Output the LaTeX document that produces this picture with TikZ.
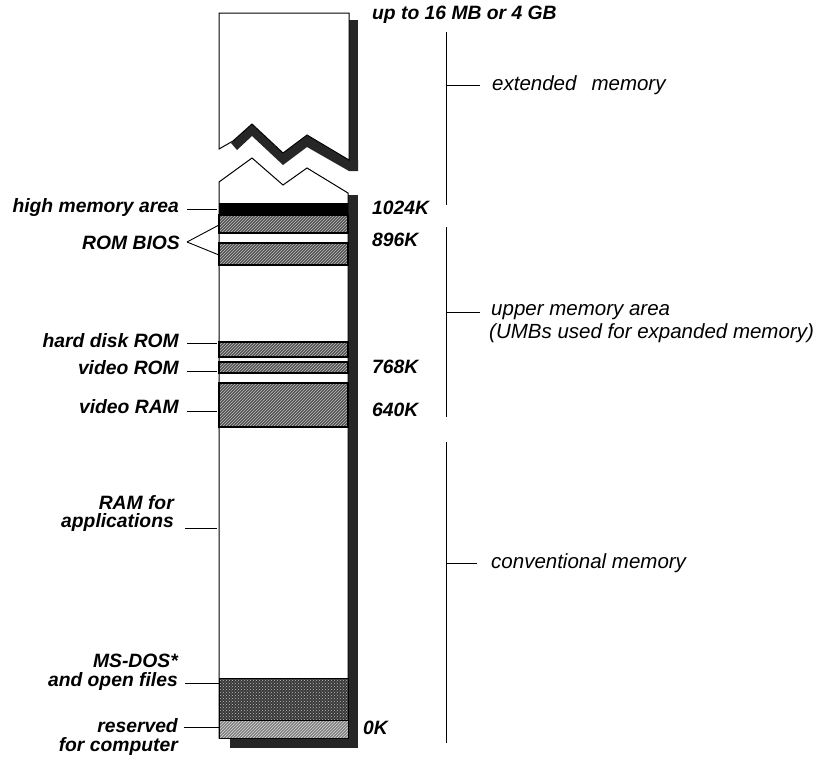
\documentclass[tikz,border=0pt]{standalone}
\usepackage{fontspec}
\setmainfont{Liberation Sans}
\usetikzlibrary{patterns}
\begin{document}
\begin{tikzpicture}[x=1pt,y=-1pt,
  lbl/.style={font=\fontsize{19.3}{21}\selectfont\bfseries\itshape, inner sep=0pt},
  blbl/.style={font=\fontsize{20.5}{22}\selectfont\itshape, inner sep=0pt, anchor=west},
  tickline/.style={line width=0.9pt},
  brk/.style={line width=1pt},
  shadowfill/.style={fill=black!85},
  hatchband/.style={preaction={fill=black!68}, pattern=north east lines, pattern color=white!75!black, draw=black, line width=1.2pt},
  lighthatch/.style={preaction={fill=black!50}, pattern=north east lines, pattern color=white!85!black, draw=black, line width=1pt},
  dotband/.style={preaction={fill=black!78}, pattern=crosshatch dots, pattern color=white!75!black, draw=black, line width=1pt},
  piece/.style={draw=black, fill=white, line width=1pt, line join=miter}
]
\useasboundingbox (0,0) rectangle (822,763);

% ---- shadows
\fill[shadowfill] (349,20) rectangle (358,171);
\fill[shadowfill] (231,143) -- (252,124) -- (283,153) -- (307,135) -- (349,160) -- (358,160) -- (358,171) -- (349,171) -- (307,147) -- (283,165) -- (252,136) -- (237,150) -- cycle;
\fill[shadowfill] (348,195) rectangle (358,748);
\fill[shadowfill] (230,736) rectangle (358,748);

% ---- top piece (extended memory, broken)
\draw[piece] (219,149) -- (219,13) -- (349,13) -- (349,160) -- (307,135) -- (283,153) -- (252,124) -- (233,141) -- cycle;

% ---- lower column
\draw[piece] (219,738) -- (219,182) -- (252,158) -- (283,185) -- (307,168) -- (348,193) -- (348,738) -- cycle;

% ---- bands
\fill[black] (219,203) rectangle (348,214);
\path[hatchband] (219,215) rectangle (348,233);
\path[hatchband] (219,243) rectangle (348,265);
\path[hatchband] (219,342) rectangle (348,357);
\path[hatchband] (219,362) rectangle (348,373);
\path[hatchband] (219,383) rectangle (348,427);
\path[dotband] (219,678) rectangle (348,720);
\path[lighthatch] (219,720) rectangle (348,738);

% ---- column edge anchors
\coordinate (cHMA) at (217,209);
\coordinate (cBIOSa) at (219,225);
\coordinate (cBIOSb) at (219,255);
\coordinate (cHD) at (217,343);
\coordinate (cVROM) at (217,371);
\coordinate (cVRAM) at (217,411);
\coordinate (cAPP) at (217,528);
\coordinate (cDOS) at (219,683);
\coordinate (cRES) at (219,727);

% ---- left labels
\node[lbl, anchor=east] (hma) at (179,208) {high memory area};
\node[lbl, anchor=east] (bios) at (180,243) {ROM BIOS};
\node[lbl, anchor=east] (hd) at (179,341) {hard disk ROM};
\node[lbl, anchor=east] (vrom) at (179,368) {video ROM};
\node[lbl, anchor=east] (vram) at (179,407) {video RAM};
\node[lbl, anchor=east] (ramfor) at (174,503) {RAM for};
\node[lbl, anchor=east] (app) at (174,523) {applications};
\node[lbl, anchor=east] (msdos) at (178,661) {MS-DOS*};
\node[lbl, anchor=east] (open) at (178,682) {and open files};
\node[lbl, anchor=east] (res) at (178,726) {reserved};
\node[lbl, anchor=east] (forc) at (178,747) {for computer};

\draw[tickline] (hma.east) ++(8,1) -- (cHMA);
\draw[tickline] (bios.east) ++(7,-1) coordinate (bt) -- (cBIOSa);
\draw[tickline] (bt) -- (cBIOSb);
\draw[tickline] (hd.east) ++(8,2) -- (cHD);
\draw[tickline] (vrom.east) ++(8,3) -- (cVROM);
\draw[tickline] (vram.east) ++(8,4) -- (cVRAM);
\draw[tickline] (app.east) ++(11,5) -- (cAPP);
\draw[tickline] (open.east) ++(7,1) -- (cDOS);
\draw[tickline] (res.east) ++(6,1) -- (cRES);

% ---- right labels (addresses)
\node[lbl, anchor=west] (top) at (372,15) {up to 16 MB or 4 GB};
\node[lbl, anchor=west] (k1024) at (372,208) {1024K};
\node[lbl, anchor=west] (k896) at (372,240) {896K};
\node[lbl, anchor=west] (k768) at (372,367) {768K};
\node[lbl, anchor=west] (k640) at (372,410) {640K};
\node[lbl, anchor=west] (k0) at (363,728) {0K};

% ---- brackets
\coordinate (e1) at (446,32);  \coordinate (e2) at (446,205);
\coordinate (em) at (446,85);  \coordinate (et) at (480,85);
\coordinate (u1) at (446,227); \coordinate (u2) at (446,417);
\coordinate (um) at (446,312); \coordinate (ut) at (480,312);
\coordinate (c1) at (446,442); \coordinate (c2) at (446,743);
\coordinate (cm) at (446,563); \coordinate (ct) at (477,563);
\draw[brk] (e1) -- (e2);
\draw[brk] (em) -- (et);
\draw[brk] (u1) -- (u2);
\draw[brk] (um) -- (ut);
\draw[brk] (c1) -- (c2);
\draw[brk] (cm) -- (ct);

\node[blbl] (ext) at (492,85) {extended\hspace{15pt}memory};
\node[blbl] (uma) at (491,312) {upper memory area};
\node[blbl] (umb) at (489,333) {(UMBs used for expanded memory)};
\node[blbl] (conv) at (491,563) {conventional memory};
\end{tikzpicture}
\end{document}
